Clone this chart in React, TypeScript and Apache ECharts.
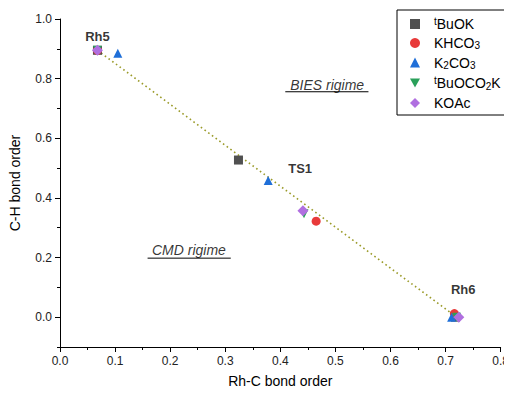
import React, { useEffect, useRef } from "react";
import * as echarts from "echarts";

const seriesNames = ["tBuOK", "KHCO3", "K2CO3", "tBuOCO2K", "KOAc"];
const legendRich = ["{sup|t}BuOK", "KHCO{sub|3}", "K{sub|2}CO{sub|3}", "{sup|t}BuOCO{sub|2}K", "KOAc"];
const colors = ["#505050", "#e83a3a", "#1f6fd8", "#2aa05a", "#b06fe0"];
const symbols = ["rect", "circle", "triangle", "path://M0,0 L10,0 L5,9 Z", "diamond"];

const tBuOK = [[0.068, 0.895], [0.324, 0.527], [0.718, 0.0]];
const KHCO3 = [[0.068, 0.895], [0.465, 0.322], [0.716, 0.012]];
const K2CO3 = [[0.105, 0.885], [0.378, 0.458], [0.711, 0.0]];
const tBuOCO2K = [[0.068, 0.895], [0.443, 0.347], [0.72, 0.0]];
const KOAc = [[0.068, 0.895], [0.441, 0.357], [0.724, 0.0]];
const seriesData = [tBuOK, KHCO3, K2CO3, tBuOCO2K, KOAc];

const trendLine = [[0.068, 0.895], [0.72, 0.0]];
const yMajorTicks = [0.0, 0.2, 0.4, 0.6, 0.8, 1.0];

const pointLabels = [
  { name: "Rh5", value: [0.068, 0.942] },
  { name: "TS1", value: [0.436, 0.497] },
  { name: "Rh6", value: [0.732, 0.093] },
];
const regimeLabels = [
  { name: "BIES rigime", value: [0.485, 0.78] },
  { name: "CMD rigime", value: [0.234, 0.225] },
];
const underlines = [
  [[0.409, 0.756], [0.56, 0.756]],
  [[0.159, 0.198], [0.31, 0.198]],
];

export default function App() {
  const ref = useRef<HTMLDivElement>(null);
  useEffect(() => {
    const chart = echarts.init(ref.current!, null, { renderer: "svg" });
    const font = "Liberation Sans, Arial, sans-serif";
    const series: any[] = [];
    series.push({
      type: "line",
      data: trendLine,
      symbol: "none",
      lineStyle: { color: "#9a9a28", width: 1.6, type: [1.6, 3] },
      silent: true,
      z: 1,
    });
    seriesNames.forEach((n, i) => {
      series.push({
        name: n,
        type: "scatter",
        data: seriesData[i],
        symbol: symbols[i],
        symbolSize: i === 4 ? 11 : 9,
        itemStyle: { color: colors[i], opacity: 1 },
        z: 2 + i,
      });
    });
    series.push({
      type: "scatter",
      data: pointLabels,
      symbolSize: 0,
      silent: true,
      label: {
        show: true,
        position: "inside",
        formatter: (p: any) => p.name,
        fontFamily: font,
        fontWeight: "bold",
        fontSize: 13,
        color: "#000",
      },
    });
    series.push({
      type: "scatter",
      data: regimeLabels,
      symbolSize: 0,
      silent: true,
      label: {
        show: true,
        position: "inside",
        formatter: (p: any) => p.name,
        fontFamily: font,
        fontStyle: "italic",
        fontSize: 14,
        color: "#000",
      },
    });
    underlines.forEach((u) => {
      series.push({
        type: "line",
        data: u,
        symbol: "none",
        silent: true,
        lineStyle: { color: "#000", width: 1 },
      });
    });

    chart.setOption({
      animation: false,
      backgroundColor: "#fff",
      grid: { left: 60, right: 8, top: 19, bottom: 47 },
      legend: {
        data: seriesNames.map((n, i) => ({ name: n, icon: symbols[i] })),
        orient: "vertical",
        left: 397,
        top: 10,
        borderColor: "#000",
        borderWidth: 1,
        padding: [6, 10, 5, 13],
        itemGap: 5,
        itemWidth: 10,
        itemHeight: 10,
        formatter: (name: string) => legendRich[seriesNames.indexOf(name)],
        textStyle: {
          fontFamily: font,
          fontSize: 14,
          color: "#000",
          padding: [0, 0, 0, 9],
          rich: {
            sup: { fontSize: 10, verticalAlign: "top", fontFamily: font, color: "#000", padding: [0, 0, 6, 0] },
            sub: { fontSize: 10, verticalAlign: "bottom", fontFamily: font, color: "#000", padding: [5, 0, 0, 0] },
          },
        },
      },
      xAxis: {
        type: "value",
        min: 0,
        max: 0.8,
        interval: 0.1,
        name: "Rh-C bond order",
        nameLocation: "middle",
        nameGap: 27,
        nameTextStyle: { fontFamily: font, fontSize: 14, color: "#000" },
        axisLine: { show: true, onZero: false, lineStyle: { color: "#000", width: 1 } },
        axisTick: { show: true, inside: false, length: 5, lineStyle: { color: "#000" } },
        minorTick: { show: true, splitNumber: 2, length: 3, lineStyle: { color: "#000" } },
        axisLabel: {
          fontFamily: font,
          fontSize: 12,
          color: "#222",
          formatter: (v: number) => v.toFixed(1),
        },
        splitLine: { show: false },
      },
      yAxis: [
        {
          type: "value",
          min: -0.1,
          max: 1.0,
          interval: 0.1,
          name: "C-H bond order",
          nameLocation: "middle",
          nameGap: 38,
          nameTextStyle: { fontFamily: font, fontSize: 14, color: "#000" },
          axisLine: { show: true, onZero: false, lineStyle: { color: "#000", width: 1 } },
          axisTick: { show: true, inside: false, length: 3, lineStyle: { color: "#000" } },
          axisLabel: {
            fontFamily: font,
            fontSize: 12,
            color: "#222",
            customValues: yMajorTicks,
            formatter: (v: number) => v.toFixed(1),
          },
          splitLine: { show: false },
        },
        {
          type: "value",
          position: "left",
          min: -0.1,
          max: 1.0,
          interval: 0.1,
          axisLine: { show: false },
          axisTick: { show: true, inside: false, length: 5, customValues: yMajorTicks, lineStyle: { color: "#000" } },
          axisLabel: { show: false },
          splitLine: { show: false },
        },
      ],
      series,
    });
    return () => chart.dispose();
  }, []);
  return <div ref={ref} style={{ width: 512, height: 394, margin: -8 }} />;
}
